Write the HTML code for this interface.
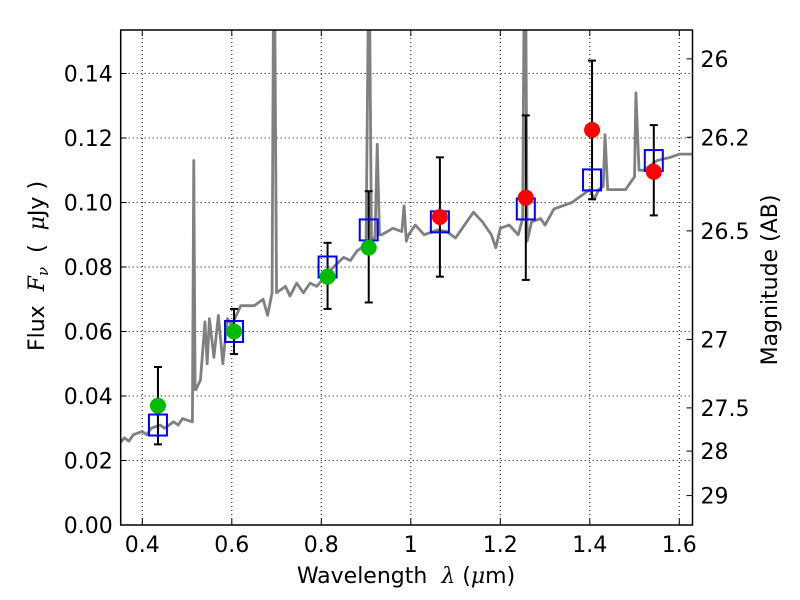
<!DOCTYPE html>
<html><head><meta charset="utf-8"><style>
body{margin:0;background:#fff;}
svg{display:block;font-family:"DejaVu Sans","Liberation Sans",sans-serif;}
</style></head><body>
<svg id="chart" width="800" height="600"></svg>
<script>
const specLam=[0.35,0.36,0.37,0.38,0.40,0.41,0.42,0.44,0.45,0.47,0.48,0.49,0.50,0.512,0.515,0.518,0.52,0.53,0.54,0.545,0.55,0.56,0.57,0.58,0.59,0.60,0.62,0.65,0.67,0.68,0.69,0.693,0.696,0.70,0.72,0.73,0.745,0.76,0.775,0.79,0.82,0.835,0.85,0.865,0.88,0.90,0.905,0.908,0.912,0.92,0.925,0.93,0.935,0.96,0.98,0.985,0.99,0.995,1.01,1.03,1.06,1.08,1.10,1.14,1.16,1.18,1.19,1.20,1.22,1.24,1.25,1.253,1.257,1.26,1.27,1.29,1.30,1.32,1.36,1.40,1.41,1.42,1.43,1.434,1.44,1.45,1.48,1.50,1.503,1.51,1.52,1.55,1.58,1.60,1.628];
const specFlux=[0.0254,0.027,0.026,0.028,0.029,0.028,0.030,0.031,0.030,0.032,0.031,0.033,0.0325,0.032,0.113,0.042,0.042,0.045,0.063,0.050,0.064,0.052,0.065,0.050,0.064,0.062,0.068,0.068,0.070,0.065,0.072,0.16,0.16,0.072,0.074,0.071,0.075,0.072,0.075,0.074,0.079,0.081,0.083,0.082,0.085,0.087,0.16,0.16,0.089,0.089,0.118,0.090,0.090,0.092,0.091,0.099,0.088,0.090,0.093,0.090,0.0915,0.091,0.089,0.097,0.094,0.090,0.086,0.092,0.093,0.090,0.095,0.16,0.16,0.088,0.094,0.095,0.093,0.098,0.100,0.104,0.101,0.104,0.105,0.121,0.104,0.104,0.104,0.108,0.134,0.110,0.110,0.113,0.114,0.115,0.115];
const obsLam=[0.435,0.605,0.814,0.906,1.065,1.257,1.405,1.543];
const obsFlux=[0.037,0.060,0.077,0.086,0.0955,0.1015,0.1225,0.1095];
const errLo=[0.025,0.053,0.067,0.069,0.077,0.076,0.101,0.096];
const errHi=[0.049,0.067,0.0875,0.1035,0.114,0.127,0.144,0.124];
const modelFlux=[0.031,0.060,0.080,0.0915,0.094,0.098,0.107,0.113];
const obsColor=['#00bb00','#00bb00','#00bb00','#00bb00','red','red','red','red'];
const xTicks=[0.4,0.6,0.8,1.0,1.2,1.4,1.6];
const xTickLabels=['0.4','0.6','0.8','1','1.2','1.4','1.6'];
const yTicks=[0,0.02,0.04,0.06,0.08,0.10,0.12,0.14];
const yTickLabels=['0.00','0.02','0.04','0.06','0.08','0.10','0.12','0.14'];
const magTicks=[26,26.2,26.5,27,27.5,28,29];
const magTickLabels=['26','26.2','26.5','27','27.5','28','29'];

const L=120.7,R=692.5,T=30,B=525;
const X=v=>142.3+(v-0.4)*447.5;
const Y=v=>525-v*3225;
const svg=document.getElementById('chart');
const NS='http://www.w3.org/2000/svg';
function mk(tag,attrs,parent){const e=document.createElementNS(NS,tag);for(const k in attrs)e.setAttribute(k,attrs[k]);(parent||svg).appendChild(e);return e;}
const defs=mk('defs',{});const cp=mk('clipPath',{id:'clip'},defs);mk('rect',{x:L,y:T,width:R-L,height:B-T},cp);

xTicks.forEach((t,i)=>{
 const g=mk('line',{x1:X(t),x2:X(t),y1:T,y2:B,stroke:'#000','stroke-width':1,'stroke-dasharray':'1,3'});
 
 mk('line',{x1:X(t),x2:X(t),y1:B,y2:B-6,stroke:'#000'});mk('line',{x1:X(t),x2:X(t),y1:T,y2:T+6,stroke:'#000'});
 const tx=mk('text',{x:X(t),y:B+27,'text-anchor':'middle','font-size':22});tx.textContent=xTickLabels[i];
 
});
yTicks.forEach((t,i)=>{
 if(i>0){const g=mk('line',{x1:L,x2:R,y1:Y(t),y2:Y(t),stroke:'#000','stroke-width':1,'stroke-dasharray':'1,3'});
 }
 mk('line',{x1:L,x2:L+6,y1:Y(t),y2:Y(t),stroke:'#000'});
 const tx=mk('text',{x:L-8,y:Y(t)+8,'text-anchor':'end','font-size':22});tx.textContent=yTickLabels[i];
 
});
magTicks.forEach((m,i)=>{
 const f=Math.pow(10,(23.9-m)/2.5);const y=Y(f);
 mk('line',{x1:R,x2:R-6,y1:y,y2:y,stroke:'#000'});
 const tx=mk('text',{x:R+8,y:y+8,'font-size':22});tx.textContent=magTickLabels[i];
 
});

const sp=mk('polyline',{points:specLam.map((l,i)=>X(l)+','+Y(specFlux[i])).join(' '),fill:'none',stroke:'#808080','stroke-width':2.8,'stroke-linejoin':'round','clip-path':'url(#clip)'});


obsLam.forEach((l,i)=>{
 const x=X(l);
 const eb=mk('g',{stroke:'#000','stroke-width':2});
 
 mk('line',{x1:x,x2:x,y1:Y(errLo[i]),y2:Y(errHi[i])},eb);
 mk('line',{x1:x-4,x2:x+4,y1:Y(errLo[i]),y2:Y(errLo[i])},eb);
 mk('line',{x1:x-4,x2:x+4,y1:Y(errHi[i]),y2:Y(errHi[i])},eb);
 const bx=mk('rect',{x:x-9,y:Y(modelFlux[i])-10.5,width:18,height:21,fill:'none',stroke:'#0000ff','stroke-width':2});
 
 const c=mk('circle',{cx:x,cy:Y(obsFlux[i]),r:8,fill:obsColor[i]});
 
});

const fr=mk('rect',{x:L,y:T,width:R-L,height:B-T,fill:'none',stroke:'#000','stroke-width':1.5});


const xl=mk('text',{x:406,y:583,'text-anchor':'middle','font-size':22});
xl.innerHTML='Wavelength\u00a0\u00a0<tspan font-family="DejaVu Serif,serif" font-style="italic">λ</tspan> (<tspan font-family="DejaVu Serif,serif" font-style="italic">μ</tspan>m)';

const yl=mk('text',{x:0,y:0,'text-anchor':'middle','font-size':22,transform:'translate(44,266) rotate(-90)'});
yl.innerHTML='Flux\u00a0\u00a0<tspan font-family="DejaVu Serif,serif" font-style="italic">F</tspan><tspan font-family="DejaVu Serif,serif" font-style="italic" font-size="15" dy="4">ν</tspan><tspan dy="-4">\u00a0\u00a0(\u00a0\u00a0</tspan><tspan font-family="DejaVu Serif,serif" font-style="italic">μ</tspan>Jy )';

const rl=mk('text',{x:0,y:0,'text-anchor':'middle','font-size':22,transform:'translate(777,280) rotate(-90)'});
rl.textContent='Magnitude (AB)';

</script>
</body></html>
